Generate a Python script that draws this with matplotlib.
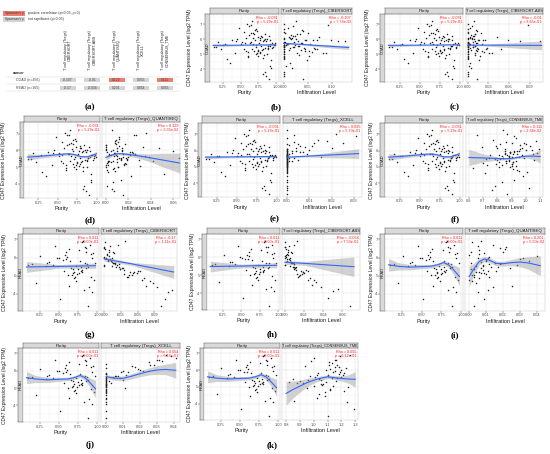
import matplotlib
matplotlib.use('Agg')
import matplotlib.pyplot as plt
from matplotlib.patches import Rectangle
from matplotlib.ticker import AutoMinorLocator
import numpy as np

plt.rcParams['font.family'] = ['Liberation Sans', 'DejaVu Sans']

# ---------------- heatmap (a) ----------------
HM_METHODS = ['CIBERSORT', 'CIBERSORT-ABS', 'QUANTISEQ', 'XCELL', 'CONSENSUS_TME']
HM_CANCERS = ['COAD (n=456)', 'READ (n=165)']
HM_RHO = [[-0.107, -0.01, 0.129, 0.035, 0.111],
          [-0.17, -0.034, 0.201, 0.054, 0.055]]
HM_SIG = [[0, 0, 1, 0, 1],
          [0, 0, 0, 0, 0]]

# ---------------- COAD samples ----------------
COAD_expr = [
    5.62, 5.81, 5.34, 6.12, 5.45, 5.97, 5.20, 6.35, 5.71, 4.92,
    5.55, 6.05, 5.88, 5.12, 6.48, 5.40, 5.66, 4.75, 6.22, 5.93,
    5.28, 5.77, 6.61, 5.03, 5.50, 6.15, 5.85, 4.60, 5.39, 6.02,
    5.70, 5.18, 6.30, 5.59, 4.88, 5.95, 6.78, 5.25, 5.64, 5.46,
    3.55, 6.08, 5.33, 7.05, 5.79, 4.21, 5.57, 6.41, 5.10, 5.90,
    5.48, 6.55, 4.45, 5.73, 5.15, 6.26, 3.85, 5.68, 5.98, 5.36,
    7.25, 5.06, 5.82, 4.98, 6.18, 5.52, 3.35, 5.75, 6.90, 5.42,
    4.68, 6.38, 5.60, 5.23, 6.00, 4.10, 5.87, 5.31, 6.68, 5.65,
    5.94, 4.82, 6.12, 5.38, 3.70, 5.56, 6.45, 5.01, 5.74, 6.95]
COAD_purity = [
    0.72, 0.65, 0.81, 0.58, 0.88, 0.77, 0.69, 0.84, 0.92, 0.61,
    0.79, 0.45, 0.86, 0.73, 0.55, 0.95, 0.67, 0.82, 0.90, 0.38,
    0.75, 0.63, 0.70, 0.87, 0.15, 0.80, 0.52, 0.93, 0.66, 0.85,
    0.28, 0.78, 0.62, 0.91, 0.74, 0.83, 0.48, 0.57, 0.97, 0.71,
    0.86, 0.68, 0.22, 0.59, 0.76, 0.92, 0.89, 0.64, 0.42, 0.81,
    0.12, 0.73, 0.35, 0.94, 0.60, 0.79, 0.84, 0.51, 0.70, 0.88,
    0.66, 0.77, 0.18, 0.83, 0.74, 0.96, 0.90, 0.56, 0.62, 0.85,
    0.30, 0.69, 0.99, 0.75, 0.87, 0.93, 0.44, 0.80, 0.72, 0.25,
    0.91, 0.60, 0.78, 0.54, 0.82, 0.89, 0.67, 0.71, 0.98, 0.64]
COAD_cibersort = [
    0.000, 0.021, 0.045, 0.000, 0.012, 0.068, 0.000, 0.033, 0.008, 0.052,
    0.000, 0.015, 0.029, 0.087, 0.000, 0.041, 0.006, 0.000, 0.024, 0.060,
    0.011, 0.000, 0.037, 0.000, 0.019, 0.074, 0.003, 0.048, 0.000, 0.026,
    0.055, 0.000, 0.014, 0.031, 0.000, 0.098, 0.009, 0.043, 0.000, 0.022,
    0.000, 0.017, 0.065, 0.000, 0.035, 0.005, 0.000, 0.050, 0.028, 0.112,
    0.000, 0.039, 0.013, 0.000, 0.058, 0.020, 0.000, 0.007, 0.046, 0.000,
    0.025, 0.081, 0.000, 0.032, 0.010, 0.000, 0.040, 0.000, 0.018, 0.063,
    0.000, 0.027, 0.004, 0.053, 0.000, 0.016, 0.128, 0.036, 0.000, 0.023,
    0.044, 0.000, 0.012, 0.070, 0.000, 0.030, 0.002, 0.000, 0.038, 0.092]
COAD_cibersort_abs = [
    0.000, 0.008, 0.015, 0.000, 0.004, 0.022, 0.000, 0.011, 0.003, 0.018,
    0.000, 0.006, 0.010, 0.031, 0.000, 0.013, 0.002, 0.000, 0.009, 0.025,
    0.005, 0.000, 0.012, 0.000, 0.007, 0.042, 0.001, 0.016, 0.000, 0.009,
    0.020, 0.000, 0.005, 0.011, 0.000, 0.058, 0.003, 0.014, 0.000, 0.008,
    0.000, 0.006, 0.027, 0.000, 0.012, 0.002, 0.000, 0.019, 0.010, 0.075,
    0.000, 0.013, 0.004, 0.000, 0.023, 0.007, 0.000, 0.002, 0.017, 0.000,
    0.009, 0.035, 0.000, 0.011, 0.003, 0.000, 0.014, 0.000, 0.006, 0.028,
    0.000, 0.010, 0.001, 0.021, 0.000, 0.005, 0.105, 0.012, 0.000, 0.008,
    0.015, 0.000, 0.004, 0.048, 0.000, 0.010, 0.001, 0.000, 0.013, 0.088]
COAD_quantiseq = [
    0.038, 0.015, 0.002, 0.010, 0.029, 0.004, 0.016, 0.000, 0.021, 0.007,
    0.012, 0.006, 0.023, 0.000, 0.011, 0.019, 0.007, 0.008, 0.033, 0.001,
    0.002, 0.026, 0.009, 0.000, 0.013, 0.047, 0.008, 0.052, 0.003, 0.014,
    0.004, 0.018, 0.000, 0.015, 0.006, 0.060, 0.012, 0.001, 0.031, 0.010,
    0.007, 0.000, 0.010, 0.036, 0.003, 0.013, 0.065, 0.017, 0.002, 0.021,
    0.019, 0.008, 0.022, 0.003, 0.016, 0.012, 0.001, 0.010, 0.014, 0.006,
    0.005, 0.030, 0.007, 0.011, 0.000, 0.018, 0.015, 0.009, 0.025, 0.013,
    0.002, 0.009, 0.020, 0.017, 0.000, 0.006, 0.024, 0.004, 0.012, 0.035,
    0.010, 0.001, 0.014, 0.042, 0.005, 0.013, 0.008, 0.011, 0.003, 0.027]
COAD_xcell = [
    0.000, 0.000, 0.002, 0.000, 0.005, 0.000, 0.000, 0.001, 0.000, 0.000,
    0.003, 0.000, 0.000, 0.000, 0.012, 0.000, 0.000, 0.000, 0.008, 0.000,
    0.000, 0.001, 0.018, 0.000, 0.000, 0.004, 0.000, 0.000, 0.000, 0.010,
    0.000, 0.000, 0.006, 0.000, 0.000, 0.002, 0.000, 0.000, 0.015, 0.000,
    0.000, 0.000, 0.000, 0.022, 0.000, 0.000, 0.001, 0.000, 0.000, 0.007,
    0.000, 0.003, 0.000, 0.000, 0.000, 0.011, 0.000, 0.000, 0.004, 0.000,
    0.000, 0.000, 0.009, 0.000, 0.020, 0.000, 0.000, 0.000, 0.031, 0.000,
    0.000, 0.005, 0.000, 0.000, 0.000, 0.000, 0.002, 0.000, 0.014, 0.000,
    0.006, 0.000, 0.000, 0.001, 0.000, 0.000, 0.025, 0.000, 0.000, 0.003]
COAD_consensus = [
    0.90, 1.05, 0.86, 1.09, 0.80, 0.92, 0.79, 0.96, 0.87, 0.63,
    0.84, 1.04, 0.89, 0.73, 0.99, 0.88, 0.83, 0.95, 0.69, 0.92,
    0.81, 0.91, 1.07, 0.93, 0.78, 0.97, 0.85, 0.71, 0.88, 1.00,
    0.97, 0.90, 0.79, 0.88, 0.91, 0.85, 0.93, 0.86, 0.95, 0.82,
    0.76, 0.96, 0.91, 0.87, 0.94, 0.92, 0.84, 1.00, 0.83, 0.89,
    0.72, 0.86, 0.98, 0.81, 0.90, 1.03, 0.78, 0.88, 0.94, 0.93,
    0.84, 0.90, 0.85, 0.89, 0.80, 0.99, 0.87, 0.75, 0.92, 1.06,
    1.01, 0.82, 0.93, 0.70, 0.95, 0.83, 1.08, 0.91, 0.77, 0.88,
    0.89, 0.94, 0.85, 0.86, 1.02, 0.74, 0.90, 0.81, 0.97, 0.66]

# ---------------- READ samples ----------------
READ_expr = [
    5.55, 5.82, 5.30, 6.15, 5.48, 6.40, 5.12, 5.70, 4.95, 6.05,
    5.62, 5.25, 6.62, 5.40, 4.70, 5.88, 6.25, 5.05, 5.58, 6.90,
    4.35, 5.75, 5.35, 6.48, 4.85, 5.66, 6.10, 5.18, 3.70, 5.95,
    5.44, 6.32, 4.60, 5.80, 5.02, 6.70, 5.52, 4.20, 6.00, 5.28,
    5.68, 4.90, 6.55, 5.38, 3.30, 5.90, 5.15, 6.20, 4.45, 5.60,
    6.85, 5.08, 5.72, 4.10, 6.30, 5.46, 4.75, 5.98, 5.22, 6.60]
READ_purity = [
    0.72, 0.65, 0.81, 0.58, 0.88, 0.77, 0.69, 0.84, 0.92, 0.61,
    0.15, 0.79, 0.45, 0.86, 0.73, 0.55, 0.95, 0.67, 0.10, 0.82,
    0.90, 0.38, 0.75, 0.63, 0.70, 0.87, 0.26, 0.80, 0.52, 0.93,
    0.66, 0.85, 0.20, 0.78, 0.62, 0.91, 0.33, 0.83, 0.48, 0.57,
    0.97, 0.71, 0.86, 0.68, 0.88, 0.59, 0.76, 0.92, 0.64, 0.42,
    0.81, 0.74, 0.35, 0.94, 0.60, 0.79, 0.96, 0.51, 0.70, 0.84]
READ_cibersort = [
    0.000, 0.012, 0.035, 0.004, 0.021, 0.008, 0.058, 0.015, 0.042, 0.000,
    0.026, 0.065, 0.010, 0.031, 0.082, 0.006, 0.018, 0.049, 0.000, 0.038,
    0.095, 0.014, 0.028, 0.002, 0.071, 0.020, 0.009, 0.054, 0.110, 0.000,
    0.033, 0.016, 0.088, 0.007, 0.045, 0.024, 0.013, 0.122, 0.003, 0.061,
    0.019, 0.040, 0.000, 0.029, 0.102, 0.011, 0.052, 0.005, 0.076, 0.023,
    0.001, 0.036, 0.017, 0.115, 0.008, 0.027, 0.068, 0.014, 0.047, 0.000]
READ_cibersort_abs = [
    0.000, 0.005, 0.012, 0.001, 0.008, 0.003, 0.020, 0.006, 0.015, 0.000,
    0.010, 0.024, 0.004, 0.011, 0.030, 0.002, 0.007, 0.018, 0.000, 0.013,
    0.038, 0.005, 0.010, 0.001, 0.026, 0.008, 0.003, 0.019, 0.045, 0.000,
    0.012, 0.006, 0.032, 0.002, 0.016, 0.009, 0.005, 0.055, 0.001, 0.022,
    0.007, 0.014, 0.000, 0.011, 0.068, 0.004, 0.019, 0.002, 0.028, 0.009,
    0.000, 0.013, 0.006, 0.050, 0.003, 0.010, 0.024, 0.005, 0.017, 0.000]
READ_quantiseq = [
    0.004, 0.035, 0.008, 0.000, 0.017, 0.006, 0.007, 0.019, 0.003, 0.012,
    0.018, 0.011, 0.005, 0.024, 0.002, 0.010, 0.009, 0.003, 0.028, 0.007,
    0.014, 0.007, 0.001, 0.021, 0.006, 0.012, 0.040, 0.004, 0.009, 0.032,
    0.007, 0.020, 0.004, 0.010, 0.002, 0.014, 0.008, 0.011, 0.005, 0.016,
    0.001, 0.012, 0.018, 0.003, 0.003, 0.030, 0.009, 0.006, 0.025, 0.008,
    0.002, 0.010, 0.015, 0.005, 0.001, 0.013, 0.000, 0.011, 0.006, 0.022]
READ_xcell = [
    0.000, 0.000, 0.003, 0.000, 0.010, 0.000, 0.000, 0.006, 0.000, 0.020,
    0.000, 0.000, 0.030, 0.002, 0.000, 0.000, 0.015, 0.000, 0.008, 0.035,
    0.000, 0.012, 0.000, 0.025, 0.000, 0.004, 0.019, 0.000, 0.000, 0.009,
    0.000, 0.028, 0.000, 0.000, 0.011, 0.041, 0.000, 0.000, 0.022, 0.000,
    0.005, 0.000, 0.033, 0.000, 0.000, 0.013, 0.000, 0.017, 0.000, 0.000,
    0.038, 0.000, 0.007, 0.000, 0.026, 0.000, 0.000, 0.010, 0.000, 0.031]
READ_consensus = [
    1.17, 1.03, 0.82, 1.15, 0.85, 1.13, 1.06, 1.21, 0.95, 1.12,
    1.10, 0.88, 1.16, 1.05, 1.08, 1.19, 0.94, 1.14, 1.01, 1.26,
    1.02, 1.18, 0.90, 1.11, 1.12, 0.97, 1.23, 1.07, 1.29, 1.15,
    0.96, 1.17, 1.04, 1.22, 1.25, 1.00, 1.13, 0.86, 1.20, 1.09,
    1.02, 1.12, 0.98, 1.16, 1.10, 1.14, 1.05, 1.18, 1.08, 1.20,
    1.19, 1.00, 1.10, 1.24, 1.11, 1.04, 1.22, 1.09, 0.92, 1.15]

# ---------------- fitted curves (x, y, half-width of band) ----------------
FIT_COAD_PUR_LM = ([0.11, 0.55, 0.995], [5.60, 5.62, 5.64], [0.09, 0.04, 0.05])
FIT_COAD_PUR_LO = ([0.11, 0.25, 0.40, 0.55, 0.65, 0.72, 0.80, 0.88, 0.95, 0.995],
                   [5.60, 5.64, 5.70, 5.77, 5.80, 5.74, 5.62, 5.62, 5.72, 5.80],
                   [0.20, 0.12, 0.10, 0.08, 0.07, 0.07, 0.07, 0.07, 0.10, 0.15])
FIT_COAD_CIB = ([0.0, 0.03, 0.135], [5.74, 5.68, 5.46], [0.06, 0.04, 0.14])
FIT_COAD_CIBABS = ([0.0, 0.02, 0.107], [5.62, 5.62, 5.60], [0.05, 0.04, 0.30])
FIT_COAD_QUANT = ([0.0, 0.005, 0.01, 0.015, 0.02, 0.03, 0.04, 0.05, 0.066],
                  [5.58, 5.72, 5.80, 5.80, 5.76, 5.66, 5.55, 5.43, 5.24],
                  [0.15, 0.08, 0.07, 0.08, 0.10, 0.15, 0.25, 0.40, 0.60])
FIT_COAD_XCELL = ([0.0, 0.01, 0.032], [5.60, 5.67, 5.82], [0.04, 0.07, 0.30])
FIT_COAD_CONS = ([0.60, 0.70, 0.80, 0.85, 0.90, 0.95, 1.00, 1.05, 1.10],
                 [5.58, 5.55, 5.52, 5.50, 5.52, 5.60, 5.66, 5.66, 5.64],
                 [0.50, 0.25, 0.10, 0.07, 0.06, 0.07, 0.10, 0.20, 0.40])
FIT_READ_PUR_LM = ([0.08, 0.50, 0.98], [5.48, 5.51, 5.55], [0.30, 0.10, 0.15])
FIT_READ_PUR_LO = ([0.08, 0.20, 0.35, 0.50, 0.62, 0.70, 0.78, 0.84, 0.90, 0.98],
                   [5.60, 5.52, 5.47, 5.50, 5.52, 5.60, 5.72, 5.60, 5.35, 4.95],
                   [0.35, 0.20, 0.15, 0.12, 0.10, 0.10, 0.12, 0.14, 0.25, 0.50])
FIT_READ_CIB = ([0.0, 0.05, 0.125], [5.92, 5.65, 5.20], [0.12, 0.08, 0.35])
FIT_READ_CIBABS = ([0.0, 0.02, 0.072], [5.72, 5.66, 5.47], [0.12, 0.10, 0.55])
FIT_READ_QUANT = ([0.0, 0.003, 0.006, 0.009, 0.012, 0.016, 0.02, 0.025, 0.03, 0.035, 0.042],
                  [4.95, 5.40, 5.78, 5.92, 5.85, 5.68, 5.66, 5.72, 5.75, 5.70, 5.55],
                  [0.60, 0.30, 0.18, 0.15, 0.14, 0.13, 0.13, 0.17, 0.25, 0.35, 0.55])
FIT_READ_XCELL = ([0.0, 0.005, 0.01, 0.015, 0.02, 0.025, 0.03, 0.035, 0.041],
                  [5.66, 5.56, 5.56, 5.68, 5.82, 5.95, 6.04, 6.07, 6.02],
                  [0.12, 0.12, 0.13, 0.15, 0.17, 0.20, 0.25, 0.30, 0.45])
FIT_READ_CONS = ([0.80, 0.85, 0.90, 0.95, 1.00, 1.05, 1.10, 1.15, 1.20, 1.25, 1.30],
                 [4.62, 4.85, 5.05, 5.25, 5.40, 5.52, 5.60, 5.55, 5.50, 5.47, 5.45],
                 [0.70, 0.50, 0.35, 0.25, 0.17, 0.13, 0.11, 0.12, 0.15, 0.25, 0.45])

# ---------------- correlation labels ----------------
PUR_TXT = {'COAD': ('Rho = -0.031', 'p = 5.29e-01'), 'READ': ('Rho = 0.011', 'p = 9.00e-01')}
P_COAD = ['7.74e-02', '8.65e-01', '3.35e-02', '5.70e-01', '2.64e-02']
P_READ = ['1.11e-01', '7.53e-01', '5.90e-02', '6.14e-01', '6.12e-01']

W, H = 550, 454
fig = plt.figure(figsize=(W / 100, H / 100), dpi=100)
fig.patch.set_facecolor('white')
renderer = fig.canvas.get_renderer()


def box(x, y, w, h):
    return [x / W, 1 - (y + h) / H, w / W, h / H]


def ftxt(x, y, s, **kw):
    fig.text(x / W, 1 - y / H, s, **kw)


# ======== panel (a) ========
RED, GRAY = '#ee7d70', '#d4d4d4'
for k, (col, lab) in enumerate([(RED, 'positive correlation (p<0.05, \u03c1>0)'),
                                (GRAY, 'not significant (p>0.05)')]):
    yy = 11 + 6 * k
    fig.add_artist(Rectangle((3 / W, 1 - (yy + 4.5) / H), 22 / W, 4.5 / H,
                             transform=fig.transFigure, facecolor=col, edgecolor='none'))
    ftxt(14, yy + 2.3, "Spearman's \u03c1", ha='center', va='center', fontsize=2.2, color='#333333')
    ftxt(28, yy + 2.3, lab, ha='left', va='center', fontsize=2.5, color='#333333')

hax = fig.add_axes(box(56, 76, 121.25, 16))
hax.set_xlim(-0.5, 4.5)
hax.set_ylim(1.5, -0.5)
hax.axis('off')
for yy in [-0.375, 0.5, 1.375]:
    hax.plot([-2.52, 4.61], [yy, yy], color='#d0d0d0', lw=0.3, clip_on=False)
for i, cname in enumerate(HM_CANCERS):
    hax.text(-1.65, i, cname, ha='center', va='center', fontsize=2.6, color='#444444')
    for j, m in enumerate(HM_METHODS):
        hax.add_patch(Rectangle((j - 0.33, i - 0.31), 0.66, 0.62,
                                facecolor=RED if HM_SIG[i][j] else GRAY, edgecolor='none'))
        hax.text(j, i, f'{HM_RHO[i][j]:g}', ha='center', va='center', fontsize=2.4, color='#444444')
for j, m in enumerate(HM_METHODS):
    hax.text(j, -1.25, 'T cell regulatory (Tregs)\n' + m, rotation=90, ha='center', va='bottom',
             fontsize=2.7, color='#222222', linespacing=1.05, clip_on=False)
hax.text(-2.27, -0.875, 'cancer', ha='left', va='center', fontsize=2.6, color='#222222',
         fontweight='bold', clip_on=False)


# ======== scatter facets ========
def facet(lab, ylab_x, ls, p1, p2, sy, py0, py1, row_label, ylim, specs):
    yticks = [4, 5, 6, 7]
    lax = fig.add_axes(box(ls[0], py0, ls[1] - ls[0], py1 - py0))
    lax.set_facecolor('#d9d9d9')
    lax.set_xlim(0, 1)
    lax.set_ylim(*ylim)
    lax.set_xticks([])
    lax.set_yticks(yticks)
    lax.set_yticklabels([str(t) for t in yticks])
    lax.tick_params(axis='y', length=1.2, width=0.3, labelsize=2.9, pad=0.6,
                    colors='#333333', labelcolor='#4d4d4d')
    for s in lax.spines.values():
        s.set_linewidth(0.35)
        s.set_color('#555555')
    lax.text(0.5, 0.5, row_label, transform=lax.transAxes, rotation=90, ha='center',
             va='center', fontsize=2.9, color='#1a1a1a')
    ftxt(ylab_x, (py0 + py1) / 2, 'CD47 Expression Level (log2 TPM)', rotation=90,
         ha='center', va='center', fontsize=3.5, color='#1a1a1a')
    for (px0, px1), sp in zip([p1, p2], specs):
        ax = fig.add_axes(box(px0, py0, px1 - px0, py1 - py0))
        ax.set_facecolor('white')
        ax.set_xlim(*sp['xlim'])
        ax.set_ylim(*ylim)
        ax.set_xticks(sp['xticks'])
        ax.set_xticklabels(sp['xticklabels'])
        ax.set_yticks(yticks)
        ax.xaxis.set_minor_locator(AutoMinorLocator(2))
        ax.yaxis.set_minor_locator(AutoMinorLocator(2))
        ax.grid(True, which='major', color='#e2e2e2', lw=0.35)
        ax.grid(True, which='minor', color='#f1f1f1', lw=0.25)
        ax.set_axisbelow(True)
        ax.tick_params(which='minor', length=0)
        ax.tick_params(axis='y', left=False, labelleft=False)
        ax.tick_params(axis='x', length=1.2, width=0.3, labelsize=2.9, pad=0.6,
                       colors='#333333', labelcolor='#4d4d4d')
        for s in ax.spines.values():
            s.set_linewidth(0.3)
            s.set_color('#bdbdbd')
        ax.scatter(sp['x'], sp['y'], s=1.2, c='#1f1f1f', linewidths=0, zorder=2)
        fx = np.array(sp['fit'][0])
        fy = np.array(sp['fit'][1])
        fs = np.array(sp['fit'][2])
        ax.fill_between(fx, fy - fs, fy + fs, color='#999999', alpha=0.45, lw=0, zorder=3)
        ax.plot(fx, fy, color='#3366ff', lw=0.8, zorder=4)
        ax.text(0.985, 0.975, sp['rho'][0] + '\n' + sp['rho'][1], transform=ax.transAxes,
                ha='right', va='top', fontsize=2.7, color='#ff1a1a', linespacing=1.0, zorder=5)
        ax.set_xlabel(sp['xlabel'], fontsize=4.0, labelpad=0.8, color='#1a1a1a')
        sax = fig.add_axes(box(px0, sy, px1 - px0, py0 - sy))
        sax.set_facecolor('#d9d9d9')
        sax.set_xticks([])
        sax.set_yticks([])
        for s in sax.spines.values():
            s.set_linewidth(0.35)
            s.set_color('#555555')
        t = sax.text(0.5, 0.45, sp['title'], transform=sax.transAxes, ha='center', va='center',
                     fontsize=3.2, color='#1a1a1a')
        avail = (px1 - px0) - 2.0
        wtxt = t.get_window_extent(renderer=renderer).width
        if wtxt > avail:
            t.set_fontsize(3.2 * avail / wtxt)
    ftxt(lab[1], lab[2], lab[0], ha='center', va='center', fontsize=6.5,
         fontfamily='Liberation Serif', fontweight='bold')


def pur_spec(cancer, xs, ys, fit):
    if cancer == 'COAD':
        xlim = (0.066, 1.042)
    else:
        xlim = (0.035, 1.025)
    return dict(x=xs, y=ys, fit=fit, xlim=xlim, xticks=[0.25, 0.5, 0.75, 1.0],
                xticklabels=['0.25', '0.50', '0.75', '1.00'], xlabel='Purity',
                title='Purity', rho=PUR_TXT[cancer])


def inf_spec(method_idx, cancer, xs, ys, fit, xlim, xticks, fmt):
    rho = HM_RHO[0 if cancer == 'COAD' else 1][method_idx]
    p = (P_COAD if cancer == 'COAD' else P_READ)[method_idx]
    return dict(x=xs, y=ys, fit=fit, xlim=xlim, xticks=xticks,
                xticklabels=[fmt.format(t) for t in xticks], xlabel='Infiltration Level',
                title='T cell regulatory (Tregs)_' + HM_METHODS[method_idx],
                rho=(f'Rho = {rho:g}', f'p = {p}'))


CY = (3.15, 7.7)
RY = (3.05, 7.3)

# row 1
facet(('(b)', 276, 107), 190, (205, 210), (210, 279), (281, 352), 8, 14, 82, 'COAD', CY,
      [pur_spec('COAD', COAD_purity, COAD_expr, FIT_COAD_PUR_LM),
       inf_spec(0, 'COAD', COAD_cibersort, COAD_expr, FIT_COAD_CIB, (-0.006, 0.142),
                [0, 0.05, 0.10], '{:.2f}')])
facet(('(c)', 455, 107), 368, (380, 385), (385, 463), (466, 543), 8, 14, 82, 'COAD', CY,
      [pur_spec('COAD', COAD_purity, COAD_expr, FIT_COAD_PUR_LM),
       inf_spec(1, 'COAD', COAD_cibersort_abs, COAD_expr, FIT_COAD_CIBABS, (-0.0025, 0.109),
                [0, 0.03, 0.06, 0.09], '{:.2f}')])
ftxt(90, 107, '(a)', ha='center', va='center', fontsize=6.5, fontfamily='Liberation Serif',
     fontweight='bold')
# row 2
facet(('(d)', 90, 220), 4, (20, 24), (24, 100), (102, 180), 116, 122, 198, 'COAD', CY,
      [pur_spec('COAD', COAD_purity, COAD_expr, FIT_COAD_PUR_LO),
       inf_spec(2, 'COAD', COAD_quantiseq, COAD_expr, FIT_COAD_QUANT, (-0.0036, 0.066),
                [0, 0.02, 0.04, 0.06], '{:.2f}')])
facet(('(e)', 275, 219), 188, (198, 202), (202, 280), (283, 362), 116, 123, 197, 'COAD', CY,
      [pur_spec('COAD', COAD_purity, COAD_expr, FIT_COAD_PUR_LM),
       inf_spec(3, 'COAD', COAD_xcell, COAD_expr, FIT_COAD_XCELL, (-0.0018, 0.0335),
                [0, 0.01, 0.02, 0.03], '{:.2f}')])
facet(('(f)', 455, 219), 372, (380, 385), (385, 463), (466, 543), 116, 123, 197, 'COAD', CY,
      [pur_spec('COAD', COAD_purity, COAD_expr, FIT_COAD_PUR_LO),
       inf_spec(4, 'COAD', COAD_consensus, COAD_expr, FIT_COAD_CONS, (0.58, 1.12),
                [0.6, 0.7, 0.8, 0.9, 1.0, 1.1], '{:.1f}')])
# row 3
facet(('(g)', 90, 335), 5, (18, 23), (23, 99), (101, 177), 228, 234, 311, 'READ', RY,
      [pur_spec('READ', READ_purity, READ_expr, FIT_READ_PUR_LM),
       inf_spec(0, 'READ', READ_cibersort, READ_expr, FIT_READ_CIB, (-0.006, 0.131),
                [0, 0.03, 0.06, 0.09], '{:.2f}')])
facet(('(h)', 272, 334), 192, (202, 207), (207, 280), (282, 360), 228, 234, 310, 'READ', RY,
      [pur_spec('READ', READ_purity, READ_expr, FIT_READ_PUR_LM),
       inf_spec(1, 'READ', READ_cibersort_abs, READ_expr, FIT_READ_CIBABS, (-0.003, 0.0783),
                [0, 0.02, 0.04, 0.06], '{:.2f}')])
facet(('(i)', 455, 335), 372, (380, 385), (385, 463), (465, 545), 228, 234, 311, 'READ', RY,
      [pur_spec('READ', READ_purity, READ_expr, FIT_READ_PUR_LO),
       inf_spec(2, 'READ', READ_quantiseq, READ_expr, FIT_READ_QUANT, (-0.0024, 0.0447),
                [0, 0.01, 0.02, 0.03, 0.04], '{:.2f}')])
# row 4
facet(('(j)', 90, 445), 5, (18, 23), (23, 99), (101, 180), 343, 348, 422, 'READ', RY,
      [pur_spec('READ', READ_purity, READ_expr, FIT_READ_PUR_LO),
       inf_spec(3, 'READ', READ_xcell, READ_expr, FIT_READ_XCELL, (-0.003, 0.0435),
                [0, 0.01, 0.02, 0.03, 0.04], '{:.2f}')])
facet(('(k)', 272, 445), 190, (200, 204), (204, 280), (282, 358), 343, 348, 420, 'READ', RY,
      [pur_spec('READ', READ_purity, READ_expr, FIT_READ_PUR_LO),
       inf_spec(4, 'READ', READ_consensus, READ_expr, FIT_READ_CONS, (0.77, 1.32),
                [0.8, 0.9, 1.0, 1.1, 1.2, 1.3], '{:.1f}')])

fig.savefig('out.png', dpi=100, facecolor='white')
